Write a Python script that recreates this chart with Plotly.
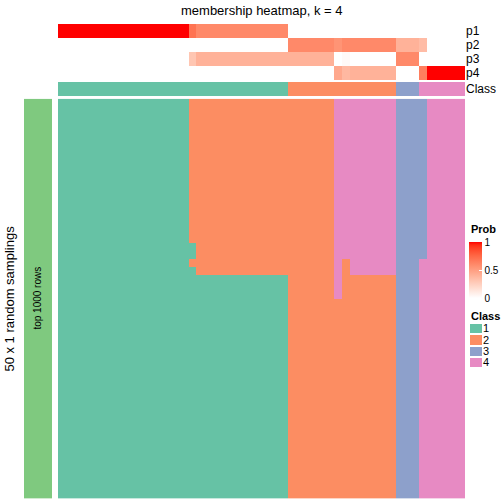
import plotly.graph_objects as go

# ---------------- data ----------------
title_text = "membership heatmap, k = 4"
prob_labels = ["p1", "p2", "p3", "p4"]
class_labels = ["1", "2", "3", "4"]
class_colors = ["#66C2A5", "#FC8D62", "#8DA0CB", "#E78AC3"]
row_anno_color = "#7FC97F"

p1 = [1, 1, 1, 1, 1, 1, 1, 1, 1, 1, 1, 1, 1, 1, 1, 1, 1, 0.7,
      0.6, 0.6, 0.6, 0.6, 0.6, 0.6, 0.6, 0.6, 0.6, 0.6, 0.6, 0.6,
      0, 0, 0, 0, 0, 0, 0, 0, 0, 0, 0, 0, 0, 0, 0, 0, 0, 0, 0, 0, 0, 0, 0]
p2 = [0, 0, 0, 0, 0, 0, 0, 0, 0, 0, 0, 0, 0, 0, 0, 0, 0, 0,
      0, 0, 0, 0, 0, 0, 0, 0, 0, 0, 0, 0,
      0.6, 0.6, 0.6, 0.6, 0.6, 0.6, 0.55, 0.6, 0.6, 0.6, 0.6, 0.6, 0.6, 0.6,
      0.4, 0.4, 0.4, 0.35, 0, 0, 0, 0, 0]
p3 = [0, 0, 0, 0, 0, 0, 0, 0, 0, 0, 0, 0, 0, 0, 0, 0, 0, 0.3,
      0.4, 0.4, 0.4, 0.4, 0.4, 0.4, 0.4, 0.4, 0.4, 0.4, 0.4, 0.4,
      0.4, 0.4, 0.4, 0.4, 0.4, 0.4, 0, 0.03, 0, 0, 0, 0, 0, 0,
      0.6, 0.6, 0.6, 0, 0, 0, 0, 0, 0]
p4 = [0, 0, 0, 0, 0, 0, 0, 0, 0, 0, 0, 0, 0, 0, 0, 0, 0, 0,
      0, 0, 0, 0, 0, 0, 0, 0, 0, 0, 0, 0,
      0, 0, 0, 0, 0, 0, 0.45, 0.37, 0.4, 0.4, 0.4, 0.4, 0.4, 0.4,
      0, 0, 0, 0.65, 1, 1, 1, 1, 1]
sample_class = ("111111111111111111111111111111"
                "22222222222222" "333" "444444")

# 50 random samplings (rows) x 53 samples (columns): predicted class
membership_rows = [
    "11111111111111111" "2222222222222222222" "44444444" "3333" "44444",
    "11111111111111111" "2222222222222222222" "44444444" "3333" "44444",
    "11111111111111111" "2222222222222222222" "44444444" "3333" "44444",
    "11111111111111111" "2222222222222222222" "44444444" "3333" "44444",
    "11111111111111111" "2222222222222222222" "44444444" "3333" "44444",
    "11111111111111111" "2222222222222222222" "44444444" "3333" "44444",
    "11111111111111111" "2222222222222222222" "44444444" "3333" "44444",
    "11111111111111111" "2222222222222222222" "44444444" "3333" "44444",
    "11111111111111111" "2222222222222222222" "44444444" "3333" "44444",
    "11111111111111111" "2222222222222222222" "44444444" "3333" "44444",
    "11111111111111111" "2222222222222222222" "44444444" "3333" "44444",
    "11111111111111111" "2222222222222222222" "44444444" "3333" "44444",
    "11111111111111111" "2222222222222222222" "44444444" "3333" "44444",
    "11111111111111111" "2222222222222222222" "44444444" "3333" "44444",
    "11111111111111111" "2222222222222222222" "44444444" "3333" "44444",
    "11111111111111111" "2222222222222222222" "44444444" "3333" "44444",
    "11111111111111111" "2222222222222222222" "44444444" "3333" "44444",
    "11111111111111111" "2222222222222222222" "44444444" "3333" "44444",
    "111111111111111111" "222222222222222222" "44444444" "3333" "44444",
    "111111111111111111" "222222222222222222" "44444444" "3333" "44444",
    "11111111111111111" "2222222222222222222" "4" "2" "444444" "333" "444444",
    "111111111111111111" "222222222222222222" "4" "2" "444444" "333" "444444",
    "111111111111111111111111111111" "222222" "4" "2222222" "333" "444444",
    "111111111111111111111111111111" "222222" "4" "2222222" "333" "444444",
    "111111111111111111111111111111" "222222" "4" "2222222" "333" "444444",
    "111111111111111111111111111111" "22222222222222" "333" "444444",
    "111111111111111111111111111111" "22222222222222" "333" "444444",
    "111111111111111111111111111111" "22222222222222" "333" "444444",
    "111111111111111111111111111111" "22222222222222" "333" "444444",
    "111111111111111111111111111111" "22222222222222" "333" "444444",
    "111111111111111111111111111111" "22222222222222" "333" "444444",
    "111111111111111111111111111111" "22222222222222" "333" "444444",
    "111111111111111111111111111111" "22222222222222" "333" "444444",
    "111111111111111111111111111111" "22222222222222" "333" "444444",
    "111111111111111111111111111111" "22222222222222" "333" "444444",
    "111111111111111111111111111111" "22222222222222" "333" "444444",
    "111111111111111111111111111111" "22222222222222" "333" "444444",
    "111111111111111111111111111111" "22222222222222" "333" "444444",
    "111111111111111111111111111111" "22222222222222" "333" "444444",
    "111111111111111111111111111111" "22222222222222" "333" "444444",
    "111111111111111111111111111111" "22222222222222" "333" "444444",
    "111111111111111111111111111111" "22222222222222" "333" "444444",
    "111111111111111111111111111111" "22222222222222" "333" "444444",
    "111111111111111111111111111111" "22222222222222" "333" "444444",
    "111111111111111111111111111111" "22222222222222" "333" "444444",
    "111111111111111111111111111111" "22222222222222" "333" "444444",
    "111111111111111111111111111111" "22222222222222" "333" "444444",
    "111111111111111111111111111111" "22222222222222" "333" "444444",
    "111111111111111111111111111111" "22222222222222" "333" "444444",
    "111111111111111111111111111111" "22222222222222" "333" "444444",
]
for r in membership_rows:
    assert len(r) == 53, len(r)

n_cols = len(sample_class)
cols = list(range(n_cols))
main_z = [[int(c) for c in r] for r in membership_rows]
class_z = [[int(c) for c in sample_class]]


# ------------- colour helpers (LAB interpolation white -> red) -------------
def lab_to_rgb(L, a, b):
    fy = (L + 16) / 116
    fx = fy + a / 500
    fz = fy - b / 200

    def finv(t):
        return t ** 3 if t ** 3 > 0.008856 else (t - 16 / 116) / 7.787
    X, Y, Z = 0.95047 * finv(fx), finv(fy), 1.08883 * finv(fz)
    r = 3.2406 * X - 1.5372 * Y - 0.4986 * Z
    g = -0.9689 * X + 1.8758 * Y + 0.0415 * Z
    bb = 0.0557 * X - 0.2040 * Y + 1.0570 * Z

    def gam(c):
        c = min(max(c, 0), 1)
        return 1.055 * c ** (1 / 2.4) - 0.055 if c > 0.0031308 else 12.92 * c
    return "rgb(%d,%d,%d)" % tuple(round(255 * gam(v)) for v in (r, g, bb))


white_lab = (100.0, 0.0, 0.0)
red_lab = (53.24, 80.09, 67.20)
prob_scale = []
for i in range(21):
    t = i / 20
    lab = [w + (rr - w) * t for w, rr in zip(white_lab, red_lab)]
    prob_scale.append([t, lab_to_rgb(*lab)])

class_scale = []
for i, c in enumerate(class_colors):
    class_scale.append([i / 4, c])
    class_scale.append([(i + 1) / 4, c])

H = 504.0


def py(p):
    return 1 - p / H


def px(p):
    return p / H


FONT = "Liberation Sans, Arial, Helvetica, sans-serif"

fig = go.Figure()

# probability rows
fig.add_trace(go.Heatmap(
    z=[p1, p2, p3, p4], x=cols, y=prob_labels, xaxis="x", yaxis="y2",
    zmin=0, zmax=1, colorscale=prob_scale, hoverinfo="skip",
    colorbar=dict(
        x=px(469), xanchor="left", xpad=0, y=py(242), yanchor="top", ypad=0,
        len=56, lenmode="pixels", thickness=13, outlinewidth=0,
        tickvals=[0, 0.5, 1], ticktext=["0", "0.5", "1"], ticks="inside",
        ticklen=3, tickcolor="white", tickfont=dict(size=10, color="black", family=FONT),
    ),
))
# class row
fig.add_trace(go.Heatmap(
    z=class_z, x=cols, y=["Class"], xaxis="x", yaxis="y3",
    zmin=0.5, zmax=4.5, colorscale=class_scale, showscale=False, hoverinfo="skip",
))
# main membership heatmap
fig.add_trace(go.Heatmap(
    z=main_z, x=cols, xaxis="x", yaxis="y",
    zmin=0.5, zmax=4.5, colorscale=class_scale, showscale=False, hoverinfo="skip",
))
# left row annotation bar
fig.add_trace(go.Heatmap(
    z=[[0]], x=[0], y=[0], xaxis="x2", yaxis="y4",
    colorscale=[[0, row_anno_color], [1, row_anno_color]], showscale=False, hoverinfo="skip",
))
# class legend
fig.add_trace(go.Heatmap(
    z=[[1], [2], [3], [4]], x=[0], y=class_labels, xaxis="x3", yaxis="y5",
    zmin=0.5, zmax=4.5, colorscale=class_scale, showscale=False, ygap=2, hoverinfo="skip",
))

hidden = dict(showticklabels=False, showgrid=False, zeroline=False, ticks="", showline=False)

fig.update_layout(
    width=504, height=504, margin=dict(l=0, r=0, t=0, b=0),
    paper_bgcolor="white", plot_bgcolor="white",
    font=dict(family=FONT, color="black"),
    xaxis=dict(domain=[px(58), px(465)], range=[-0.5, n_cols - 0.5], anchor="y", **hidden),
    yaxis=dict(domain=[py(498.5), py(98.7)], autorange="reversed", anchor="x", **hidden),
    yaxis2=dict(domain=[py(80), py(24)], autorange="reversed", anchor="x", side="right",
                tickmode="array", tickvals=prob_labels, ticktext=prob_labels,
                showgrid=False, zeroline=False, ticks="", tickfont=dict(size=12)),
    yaxis3=dict(domain=[py(96), py(82)], anchor="x", side="right",
                tickmode="array", tickvals=["Class"], ticktext=["Class"],
                showgrid=False, zeroline=False, ticks="", tickfont=dict(size=12)),
    xaxis2=dict(domain=[px(24), px(52)], range=[-0.5, 0.5], anchor="y4", **hidden),
    yaxis4=dict(domain=[py(498.5), py(98.7)], range=[-0.5, 0.5], anchor="x2", **hidden),
    xaxis3=dict(domain=[px(470), px(482)], range=[-0.5, 0.5], anchor="y5", **hidden),
    yaxis5=dict(domain=[py(368), py(323)], autorange="reversed", anchor="x3", side="right",
                tickmode="array", tickvals=class_labels, ticktext=class_labels,
                showgrid=False, zeroline=False, ticks="", tickfont=dict(size=11)),
    annotations=[
        dict(text=title_text, x=px(261.5), y=py(10), xref="paper", yref="paper",
             showarrow=False, xanchor="center", yanchor="middle", font=dict(size=13)),
        dict(text="50 x 1 random samplings", x=px(10), y=py(298.6), xref="paper", yref="paper",
             showarrow=False, textangle=-90, xanchor="center", yanchor="middle", font=dict(size=13)),
        dict(text="top 1000 rows", x=px(38), y=py(298.6), xref="paper", yref="paper",
             showarrow=False, textangle=-90, xanchor="center", yanchor="middle", font=dict(size=10)),
        dict(text="<b>Prob</b>", x=px(469), y=py(229), xref="paper", yref="paper",
             showarrow=False, xanchor="left", yanchor="middle", font=dict(size=11)),
        dict(text="<b>Class</b>", x=px(469), y=py(315.5), xref="paper", yref="paper",
             showarrow=False, xanchor="left", yanchor="middle", font=dict(size=11)),
    ],
)

fig.write_html("out.html", config={"displayModeBar": False},
               post_script="document.body.style.margin='0';")
